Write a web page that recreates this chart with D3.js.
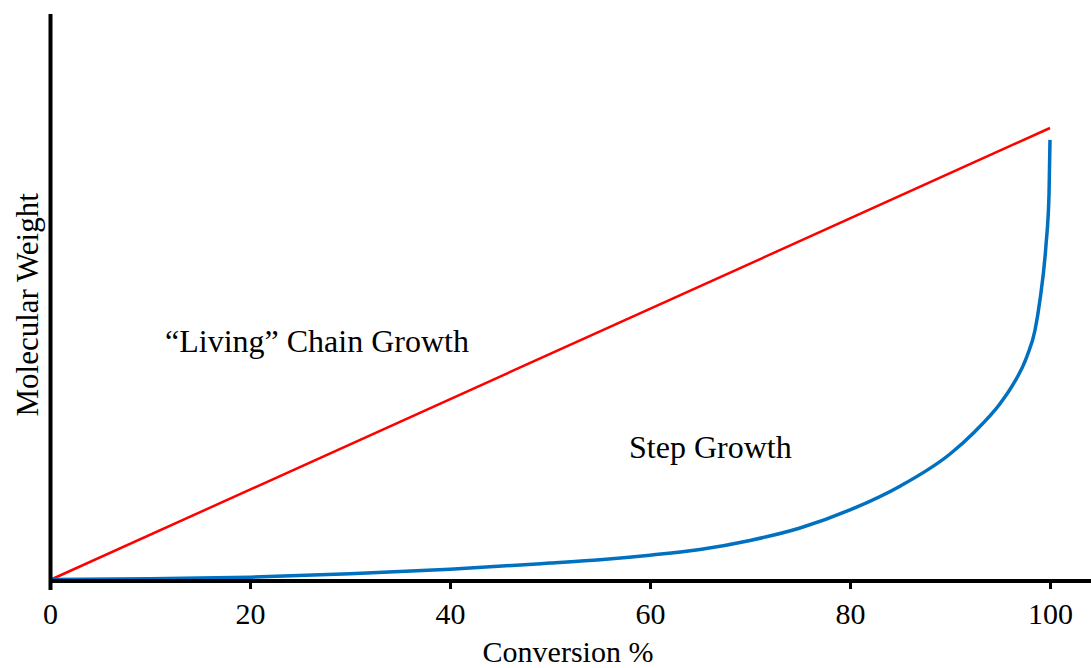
<!DOCTYPE html>
<html>
<head>
<meta charset="utf-8">
<script src="https://cdn.jsdelivr.net/npm/d3@7"></script>
<style>
    body { margin: 0; background: #fff; }
    svg text { font-family: "Liberation Serif", "Times New Roman", serif; fill: #000; }
</style>
</head>
<body>
<div id="chart"></div>
<script>
// conversion % ticks on the x axis
const xTicks = [0, 20, 40, 60, 80, 100];

// "living" chain growth: molecular weight rises linearly with conversion
const chainConversion = [0, 100];
const chainWeight = [0, 80];

// step growth, arbitrary molecular weight units
const stepConversion = [0, 10, 20, 30, 40, 50, 55, 60, 65, 70, 75, 80, 85, 90, 92.5, 95, 96.2, 97.7, 98.5, 99.0, 99.6, 99.9, 100];
const stepWeight = [0.1, 0.2, 0.5, 1.1, 1.9, 3.0, 3.6, 4.4, 5.4, 7.0, 9.2, 12.4, 16.6, 22.3, 26.3, 31.2, 34.3, 39.6, 44.2, 49.6, 59.3, 68.1, 77.9];

const annotations = [
    { text: "\u201cLiving\u201d Chain Growth", x: 11.5, y: 40.3 },
    { text: "Step Growth", x: 57.9, y: 21.6 }
];

const W = 1091, H = 668;
const margin = { top: 15, right: 41, bottom: 88, left: 50 };

const svg = d3.select("#chart").append("svg")
    .attr("width", W)
    .attr("height", H);

const x = d3.scaleLinear()
    .domain([0, 100])
    .range([margin.left, W - margin.right]);

const y = d3.scaleLinear()
    .domain([0, 100])
    .range([H - margin.bottom, margin.top]);

const line = d3.line()
    .x(d => x(d[0]))
    .y(d => y(d[1]));

// red chain growth line
svg.append("path")
    .datum(chainConversion.map((c, i) => [c, chainWeight[i]]))
    .attr("d", line)
    .attr("fill", "none")
    .attr("stroke", "#ff0000")
    .attr("stroke-width", 2.5);

// blue step growth curve
svg.append("path")
    .datum(stepConversion.map((c, i) => [c, stepWeight[i]]))
    .attr("d", line.curve(d3.curveMonotoneX))
    .attr("fill", "none")
    .attr("stroke", "#0070c0")
    .attr("stroke-width", 3.5);

// x axis
const xAxis = svg.append("g")
    .attr("transform", "translate(0," + (y(0) + 1) + ")")
    .call(d3.axisBottom(x).tickValues(xTicks).tickSize(8).tickSizeOuter(0).tickPadding(14));

xAxis.select(".domain").remove();
xAxis.selectAll(".tick line")
    .attr("stroke", "#000")
    .attr("stroke-width", 3);
xAxis.selectAll(".tick text")
    .style("font-size", "30px")
    .style("font-family", "'Liberation Serif', serif");

// thick axis lines, bottom one runs to the edge of the page
svg.append("line")
    .attr("x1", x(0)).attr("x2", W)
    .attr("y1", y(0) + 1).attr("y2", y(0) + 1)
    .attr("stroke", "#000")
    .attr("stroke-width", 4);

svg.append("line")
    .attr("x1", x(0) + 0.5).attr("x2", x(0) + 0.5)
    .attr("y1", y(100) - 1).attr("y2", y(0) + 10)
    .attr("stroke", "#000")
    .attr("stroke-width", 4);

// axis titles
svg.append("text")
    .attr("x", x(51.8))
    .attr("y", 662)
    .attr("text-anchor", "middle")
    .style("font-size", "30px")
    .text("Conversion %");

svg.append("text")
    .attr("transform", "translate(38," + y(48.7) + ") rotate(-90)")
    .attr("text-anchor", "middle")
    .style("font-size", "31px")
    .text("Molecular Weight");

// in-plot labels
svg.selectAll(".annot")
    .data(annotations)
    .enter()
    .append("text")
    .attr("class", "annot")
    .attr("x", d => x(d.x))
    .attr("y", d => y(d.y))
    .style("font-size", "32px")
    .text(d => d.text);
</script>
</body>
</html>
